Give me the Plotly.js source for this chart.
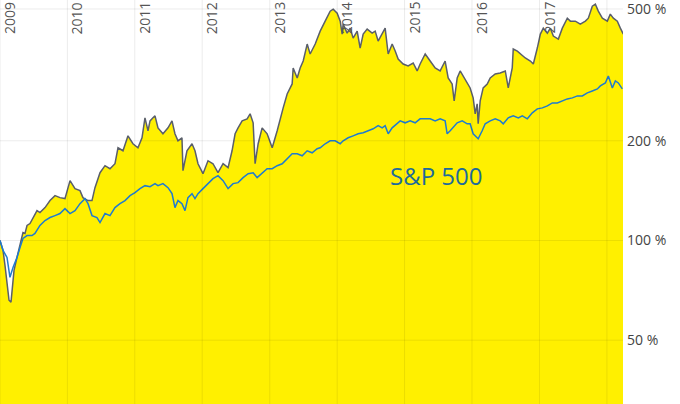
<!DOCTYPE html>
<html>
<head>
<meta charset="utf-8">
<script src="https://cdn.plot.ly/plotly-3.0.1.min.js"></script>
<style>
html,body{margin:0;padding:0;background:#fff;}
#chart{width:680px;height:404px;}
</style>
</head>
<body>
<div id="chart"></div>
<script>
// ---- Data (decimal years, percent) ----
var stockYears = [2009.000,2009.045,2009.074,2009.104,2009.134,2009.163,2009.178,2009.208,2009.252,2009.297,
2009.341,2009.371,2009.401,2009.445,2009.490,2009.549,2009.593,2009.668,2009.742,2009.816,
2009.890,2009.964,2010.039,2010.113,2010.187,2010.231,2010.306,2010.365,2010.409,2010.484,
2010.558,2010.632,2010.706,2010.751,2010.825,2010.899,2010.973,2011.047,2011.107,2011.151,
2011.196,2011.226,2011.270,2011.300,2011.344,2011.418,2011.493,2011.552,2011.596,2011.641,
2011.700,2011.715,2011.774,2011.849,2011.893,2011.938,2012.012,2012.086,2012.160,2012.234,
2012.309,2012.383,2012.442,2012.487,2012.531,2012.591,2012.665,2012.709,2012.754,2012.783,
2012.828,2012.887,2012.961,2013.036,2013.110,2013.154,2013.199,2013.258,2013.332,2013.347,
2013.407,2013.451,2013.496,2013.555,2013.599,2013.674,2013.748,2013.822,2013.896,2013.941,
2014.000,2014.045,2014.074,2014.089,2014.148,2014.193,2014.237,2014.297,2014.341,2014.386,
2014.445,2014.519,2014.564,2014.608,2014.668,2014.712,2014.757,2014.816,2014.861,2014.905,
2014.979,2015.053,2015.128,2015.187,2015.231,2015.306,2015.380,2015.454,2015.528,2015.602,
2015.647,2015.706,2015.736,2015.781,2015.825,2015.899,2015.973,2016.018,2016.048,2016.077,
2016.092,2016.122,2016.166,2016.226,2016.270,2016.344,2016.418,2016.493,2016.537,2016.596,
2016.611,2016.671,2016.715,2016.789,2016.864,2016.908,2016.967,2017.012,2017.056,2017.116,
2017.160,2017.205,2017.279,2017.338,2017.412,2017.457,2017.531,2017.605,2017.680,2017.724,
2017.783,2017.828,2017.872,2017.932,2018.006,2018.050,2018.095,2018.154,2018.199,2018.243];

var stockValues = [100,93.3,84.1,73.2,66.0,65.1,70.7,81.2,88.9,97.9,
105.7,105.0,111.0,112.5,116.5,123.1,121.4,125.7,132.0,136.6,
134.7,133.8,151.6,143.4,141.4,134.7,132.0,132.0,144.4,160.2,
168.2,164.7,170.5,190.5,186.6,207.0,195.9,190.5,204.2,234.6,
214.4,229.7,234.6,237.8,218.8,210.0,218.8,229.7,210.0,200.0,
204.2,162.5,186.6,195.9,186.6,170.5,159.1,174.1,170.5,160.2,
170.5,165.9,186.6,210.0,218.8,229.7,233.0,241.2,226.6,170.5,
195.9,218.8,210.0,190.5,214.4,234.6,251.4,277.0,296.9,331.8,
309.5,331.8,348.2,391.8,365.6,391.8,428.7,459.5,492.5,499.1,
485.7,459.5,419.9,450.1,422.8,437.6,408.4,428.7,381.1,419.9,
434.6,422.8,428.7,400.0,419.9,437.6,365.6,391.8,373.2,353.1,
341.1,336.4,343.5,325.0,341.1,365.6,348.2,331.8,325.0,348.2,
309.5,296.9,263.9,309.5,325.0,307.4,288.8,269.5,241.2,258.5,
225.1,263.9,288.8,296.9,309.5,318.2,320.4,325.0,288.8,331.8,
378.5,373.2,365.6,355.6,348.2,341.1,381.1,419.9,437.6,422.8,
437.6,414.1,405.6,437.6,469.1,459.5,459.5,450.1,459.5,469.1,
509.8,516.9,492.5,469.1,459.5,482.4,469.1,459.5,437.6,419.9];

var spYears = [2009.000,2009.045,2009.104,2009.148,2009.193,2009.252,2009.297,2009.341,2009.401,2009.475,
2009.519,2009.593,2009.668,2009.742,2009.816,2009.890,2009.964,2010.039,2010.113,2010.187,
2010.261,2010.306,2010.365,2010.439,2010.484,2010.558,2010.632,2010.706,2010.780,2010.855,
2010.929,2011.003,2011.077,2011.151,2011.226,2011.300,2011.344,2011.418,2011.493,2011.552,
2011.596,2011.641,2011.700,2011.745,2011.789,2011.849,2011.893,2011.938,2012.012,2012.086,
2012.160,2012.234,2012.309,2012.383,2012.457,2012.531,2012.605,2012.680,2012.754,2012.813,
2012.887,2012.961,2013.036,2013.110,2013.184,2013.258,2013.332,2013.407,2013.481,2013.555,
2013.629,2013.703,2013.748,2013.822,2013.896,2013.970,2014.045,2014.089,2014.163,2014.237,
2014.311,2014.386,2014.460,2014.534,2014.608,2014.668,2014.712,2014.757,2014.816,2014.890,
2014.935,2015.009,2015.083,2015.157,2015.231,2015.306,2015.380,2015.454,2015.528,2015.602,
2015.632,2015.677,2015.721,2015.781,2015.855,2015.929,2015.973,2016.018,2016.077,2016.092,
2016.151,2016.196,2016.270,2016.344,2016.418,2016.463,2016.537,2016.611,2016.686,2016.745,
2016.819,2016.893,2016.967,2017.042,2017.116,2017.190,2017.264,2017.338,2017.412,2017.487,
2017.561,2017.635,2017.709,2017.783,2017.858,2017.902,2017.976,2018.021,2018.080,2018.125,
2018.169,2018.228];

var spValues = [100,93.3,88.9,77.4,82.9,88.9,95.3,101.4,103.5,103.5,
105.0,111.0,114.9,117.3,118.9,120.6,124.8,120.6,123.1,129.2,
133.8,129.2,118.9,117.3,113.3,120.6,118.9,125.7,129.2,132.0,
136.6,139.5,143.4,146.4,145.4,148.5,146.4,148.5,144.4,138.5,
125.7,132.0,129.2,123.1,134.7,138.5,133.8,138.5,143.4,148.5,
153.7,156.9,151.6,143.4,148.5,149.5,154.8,159.1,160.2,154.8,
160.2,164.7,164.7,168.2,170.5,176.5,182.8,182.8,180.2,186.6,
184.0,189.2,190.5,195.9,200.0,200.0,195.9,200.0,204.2,207.0,
210.0,211.4,214.4,217.4,222.1,218.8,222.1,210.0,218.8,225.1,
229.7,226.6,229.7,226.6,233.0,233.0,233.0,229.7,233.0,229.7,
210.0,214.4,218.8,226.6,229.7,225.1,225.1,210.0,204.2,202.8,
214.4,225.1,229.7,233.0,229.7,225.1,234.6,237.8,234.6,237.8,
233.0,242.8,249.7,251.4,254.9,260.3,260.3,263.9,267.6,269.5,
273.2,273.2,279.0,282.8,286.8,292.8,299.0,313.8,288.8,303.1,
299.0,286.8];

var yearTicks = ['2009-01-01','2010-01-01','2011-01-01','2012-01-01','2013-01-01','2014-01-01','2015-01-01','2016-01-01','2017-01-01','2018-01-01'];
var yearLabels = ['2009','2010','2011','2012','2013','2014','2015','2016','2017',''];
var pctTicks = [50,100,200,500];
var pctLabels = ['50 %','100 %','200 %','500 %'];
var seriesLabel = 'S&P 500';

function decToDate(t){
  var y = Math.floor(t + 1e-9);
  var s = Date.UTC(y,0,1), e = Date.UTC(y+1,0,1);
  var d = new Date(s + (t - y) * (e - s));
  return d.toISOString().slice(0,16).replace('T',' ');
}

var stockX = stockYears.map(decToDate);
var spX = spYears.map(decToDate);

var traces = [
  {x: stockX, y: stockValues, type:'scatter', mode:'lines', fill:'tozeroy',
   fillcolor:'#FFF000', line:{color:'#5a5f6a', width:1.5}, hoverinfo:'skip'},
  {x: spX, y: spValues, type:'scatter', mode:'lines',
   line:{color:'#1f7bd0', width:1.5}, hoverinfo:'skip'}
];

var gridColor = 'rgba(0,0,0,0.08)';
var shapes = [];
yearTicks.forEach(function(v){
  shapes.push({type:'line', xref:'x', yref:'paper', x0:v, x1:v, y0:0, y1:1,
    line:{color:gridColor, width:1}, layer:'above'});
});
pctTicks.forEach(function(v){
  shapes.push({type:'line', xref:'paper', yref:'y', x0:0, x1:1, y0:v, y1:v,
    line:{color:gridColor, width:1}, layer:'above'});
});

var annotations = [];
yearTicks.forEach(function(v, i){
  if(!yearLabels[i]) return;
  annotations.push({x:v, y:1, xref:'x', yref:'paper', text:yearLabels[i],
    textangle:-90, showarrow:false, xanchor:'center', yanchor:'top',
    xshift:9, yshift:-1, borderpad:0,
    font:{family:'"Open Sans", sans-serif', size:14, color:'#555'}});
});
annotations.push({x:decToDate(2015.469), y:Math.log10(156.9), xref:'x', yref:'y',
  text:seriesLabel, showarrow:false, xanchor:'center', yanchor:'middle',
  font:{family:'"Open Sans", sans-serif', size:24, color:'#1d6b9a'}});

var layout = {
  width:680, height:404,
  margin:{l:0, r:57, t:0, b:0, pad:0},
  paper_bgcolor:'#ffffff', plot_bgcolor:'#ffffff',
  showlegend:false,
  font:{family:'"Open Sans", sans-serif', color:'#444'},
  xaxis:{type:'date', range:['2009-01-01','2018-03-29'],
    showticklabels:false, ticks:'',
    showgrid:false, zeroline:false, showline:false},
  yaxis:{type:'log', range:[1.5063, 2.7261], side:'right',
    tickvals:pctTicks, ticktext:pctLabels, ticks:'', ticklabeloverflow:'allow',
    ticklabelstandoff:3,
    showgrid:false, zeroline:false, showline:false,
    tickfont:{family:'"Open Sans", sans-serif', size:14, color:'#444'}},
  shapes:shapes,
  annotations:annotations
};

Plotly.newPlot('chart', traces, layout, {staticPlot:true, displayModeBar:false});
</script>
</body>
</html>
